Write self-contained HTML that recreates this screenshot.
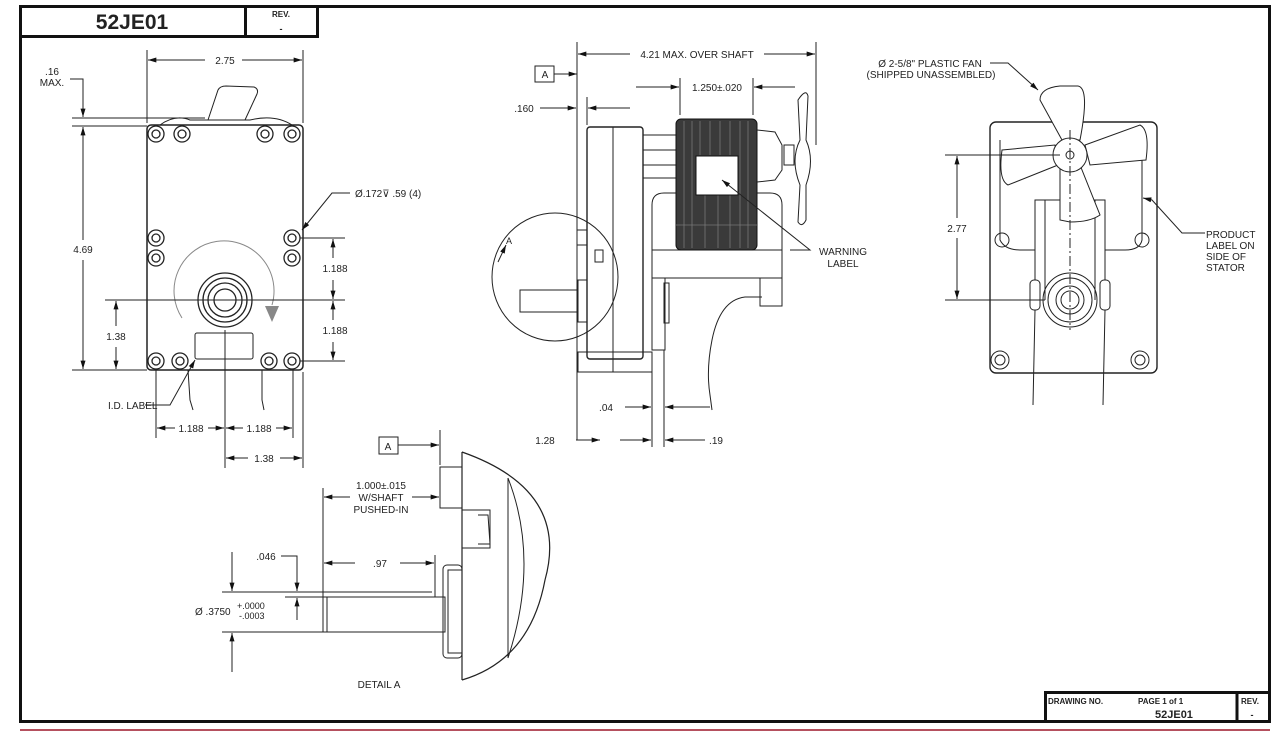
<!DOCTYPE html>
<html><head><meta charset="utf-8"><style>
html,body{margin:0;padding:0;background:#fff;}
svg{display:block;}
text{font-family:"Liberation Sans",sans-serif;fill:#222;}
.d{font-size:10px;}
</style></head><body>
<svg width="1280" height="733" viewBox="0 0 1280 733" xmlns="http://www.w3.org/2000/svg">
<defs>
<marker id="a" viewBox="0 0 10 6" refX="10" refY="3" markerWidth="10" markerHeight="5" orient="auto-start-reverse" markerUnits="userSpaceOnUse"><path d="M0,0L10,3L0,6z" fill="#111"/></marker>
</defs>
<rect width="1280" height="733" fill="#fff"/>
<!-- frame -->
<rect x="20.5" y="6.5" width="1249" height="715" fill="none" stroke="#111" stroke-width="3"/>
<line x1="20" y1="730" x2="1270" y2="730" stroke="#b5505e" stroke-width="2"/>
<rect x="20.5" y="6.5" width="225" height="30" fill="none" stroke="#111" stroke-width="3"/>
<rect x="245.5" y="6.5" width="72" height="30" fill="none" stroke="#111" stroke-width="3"/>
<text x="132" y="29" font-size="21" font-weight="bold" text-anchor="middle" fill="#111">52JE01</text>
<text x="281" y="17" font-size="8" font-weight="bold" text-anchor="middle">REV.</text>
<text x="281" y="32" font-size="9" font-weight="bold" text-anchor="middle">-</text>
<rect x="1045.5" y="692.5" width="224" height="29" fill="none" stroke="#111" stroke-width="3"/>
<line x1="1237" y1="692" x2="1237" y2="721" stroke="#111" stroke-width="3"/>
<text x="1048" y="704" font-size="8" font-weight="bold">DRAWING NO.</text>
<text x="1138" y="704" font-size="8" font-weight="bold">PAGE  1  of  1</text>
<text x="1155" y="718" font-size="11" font-weight="bold">52JE01</text>
<text x="1241" y="704" font-size="8" font-weight="bold">REV.</text>
<text x="1252" y="718" font-size="9" font-weight="bold" text-anchor="middle">-</text>

<g stroke="#222" fill="none" stroke-width="1">
<!-- LEFT VIEW -->
<rect x="147" y="125" width="156" height="245" rx="4" stroke-width="1.5"/>
<path d="M208,120 L218,90 Q220,86 226,86 L254,87 Q259,89 257,94 L245,120" />
<path d="M160,125 Q175,114 190,120 L250,120 Q275,114 292,125"/>
<g stroke-width="1.3">
<circle cx="156" cy="134" r="8"/><circle cx="156" cy="134" r="4"/>
<circle cx="182" cy="134" r="8"/><circle cx="182" cy="134" r="4"/>
<circle cx="265" cy="134" r="8"/><circle cx="265" cy="134" r="4"/>
<circle cx="292" cy="134" r="8"/><circle cx="292" cy="134" r="4"/>
<circle cx="156" cy="238" r="8"/><circle cx="156" cy="238" r="4"/>
<circle cx="156" cy="258" r="8"/><circle cx="156" cy="258" r="4"/>
<circle cx="292" cy="238" r="8"/><circle cx="292" cy="238" r="4"/>
<circle cx="292" cy="258" r="8"/><circle cx="292" cy="258" r="4"/>
<circle cx="156" cy="361" r="8"/><circle cx="156" cy="361" r="4"/>
<circle cx="180" cy="361" r="8"/><circle cx="180" cy="361" r="4"/>
<circle cx="269" cy="361" r="8"/><circle cx="269" cy="361" r="4"/>
<circle cx="292" cy="361" r="8"/><circle cx="292" cy="361" r="4"/>
<circle cx="225" cy="300" r="27"/><circle cx="225" cy="300" r="22"/><circle cx="225" cy="300" r="17"/><circle cx="225" cy="300" r="11"/>
</g>
<path d="M182,318 A50,50 0 1 1 272,305" stroke="#888"/>
<path d="M265,306 L279,306 L272,322z" fill="#888" stroke="none"/>
<rect x="195" y="333" width="58" height="26" rx="2"/>
<path d="M188,370 L190,400 L193,410 M262,370 L262,400 L264,410"/>
<!-- left dims -->
<line x1="147" y1="50" x2="147" y2="123"/><line x1="303" y1="50" x2="303" y2="123"/>
<line x1="148" y1="60" x2="205" y2="60" marker-start="url(#a)"/><line x1="242" y1="60" x2="302" y2="60" marker-end="url(#a)"/>
<line x1="72" y1="118" x2="205" y2="118"/><line x1="72" y1="126" x2="147" y2="126"/><line x1="72" y1="370" x2="147" y2="370"/>
<path d="M70,79 L83,79 L83,117" marker-end="url(#a)"/>
<line x1="83" y1="127" x2="83" y2="240" marker-start="url(#a)"/><line x1="83" y1="260" x2="83" y2="369" marker-end="url(#a)"/>
<line x1="105" y1="300" x2="345" y2="300"/>
<line x1="116" y1="301" x2="116" y2="326" marker-start="url(#a)"/><line x1="116" y1="347" x2="116" y2="369" marker-end="url(#a)"/>
<line x1="300" y1="238" x2="345" y2="238"/><line x1="300" y1="361" x2="345" y2="361"/>
<line x1="333" y1="239" x2="333" y2="258" marker-start="url(#a)"/><line x1="333" y1="280" x2="333" y2="299" marker-end="url(#a)"/>
<line x1="333" y1="301" x2="333" y2="320" marker-start="url(#a)"/><line x1="333" y1="342" x2="333" y2="360" marker-end="url(#a)"/>
<path d="M350,193 L332,193 L302,230" marker-end="url(#a)"/>
<path d="M145,405 L170,405 L195,360" marker-end="url(#a)"/>
<line x1="156" y1="370" x2="156" y2="438"/><line x1="293" y1="370" x2="293" y2="438"/><line x1="225" y1="330" x2="225" y2="468"/><line x1="303" y1="372" x2="303" y2="468"/>
<line x1="157" y1="428" x2="175" y2="428" marker-start="url(#a)"/><line x1="208" y1="428" x2="224" y2="428" marker-end="url(#a)"/>
<line x1="226" y1="428" x2="243" y2="428" marker-start="url(#a)"/><line x1="276" y1="428" x2="292" y2="428" marker-end="url(#a)"/>
<line x1="226" y1="458" x2="248" y2="458" marker-start="url(#a)"/><line x1="280" y1="458" x2="302" y2="458" marker-end="url(#a)"/>

<!-- MIDDLE VIEW -->
<rect x="535" y="66" width="19" height="16"/>
<line x1="554" y1="74" x2="577" y2="74" marker-end="url(#a)"/>
<line x1="577" y1="42" x2="577" y2="440"/>
<line x1="816" y1="42" x2="816" y2="145"/>
<line x1="578" y1="54" x2="630" y2="54" marker-start="url(#a)"/><line x1="764" y1="54" x2="815" y2="54" marker-end="url(#a)"/>
<line x1="680" y1="78" x2="680" y2="115"/><line x1="753" y1="78" x2="753" y2="115"/>
<line x1="636" y1="87" x2="679" y2="87" marker-end="url(#a)"/><line x1="795" y1="87" x2="754" y2="87" marker-end="url(#a)"/>
<line x1="540" y1="108" x2="576" y2="108" marker-end="url(#a)"/>
<line x1="587" y1="97" x2="587" y2="125"/>
<line x1="630" y1="108" x2="588" y2="108" marker-end="url(#a)"/>
<!-- gearbox -->
<rect x="587" y="127" width="56" height="232" rx="3" stroke-width="1.4"/>
<line x1="613" y1="127" x2="613" y2="372"/>
<rect x="578" y="352" width="74" height="20"/>
<rect x="577" y="230" width="10" height="15"/><rect x="595" y="250" width="8" height="12"/>
<rect x="520" y="290" width="58" height="22"/><rect x="578" y="280" width="9" height="42"/>
<ellipse cx="555" cy="277" rx="63" ry="64"/>
<rect x="643" y="135" width="37" height="43"/><line x1="643" y1="150" x2="680" y2="150"/><line x1="643" y1="165" x2="680" y2="165"/>
<path d="M652,278 L652,205 Q652,193 664,193 L770,193 Q782,193 782,205 L782,278 Z"/>
<line x1="652" y1="250" x2="782" y2="250"/>
<rect x="652" y="278" width="13" height="72"/><rect x="664" y="283" width="5" height="40"/>
<rect x="676" y="119" width="81" height="131" rx="5" fill="#3a3a3a" stroke="#111"/>
<g stroke="#777" stroke-width="0.8">
<line x1="684" y1="121" x2="684" y2="248"/><line x1="692" y1="121" x2="692" y2="248"/><line x1="700" y1="121" x2="700" y2="155"/><line x1="710" y1="121" x2="710" y2="155"/><line x1="720" y1="121" x2="720" y2="155"/><line x1="730" y1="121" x2="730" y2="155"/><line x1="740" y1="121" x2="740" y2="248"/><line x1="748" y1="121" x2="748" y2="248"/>
<line x1="705" y1="195" x2="705" y2="248"/><line x1="718" y1="195" x2="718" y2="248"/><line x1="730" y1="195" x2="730" y2="248"/>
<line x1="676" y1="225" x2="757" y2="225"/>
</g>
<rect x="696" y="156" width="42" height="39" fill="#fff" stroke="#111"/>
<path d="M757,130 L775,132 L782,145 L782,170 L775,180 L757,182"/>
<rect x="784" y="145" width="10" height="20"/>
<path d="M798,100 Q806,88 808,96 L806,140 Q815,160 806,185 L806,220 Q802,228 798,222 L800,185 Q790,160 800,140 Z" fill="#fff"/>
<rect x="760" y="278" width="22" height="28"/>
<path d="M762,297 L745,297 Q720,300 712,340 Q706,370 710,395 L712,410"/>
<path d="M790,250 L810,250 L722,180" marker-end="url(#a)"/>
<line x1="652" y1="372" x2="652" y2="447"/><line x1="664" y1="350" x2="664" y2="447"/>
<line x1="625" y1="407" x2="651" y2="407" marker-end="url(#a)"/><line x1="710" y1="407" x2="665" y2="407" marker-end="url(#a)"/>
<line x1="590" y1="440" x2="576" y2="440"/>
<line x1="600" y1="440" x2="578" y2="440" marker-start="url(#a)"/>
<line x1="620" y1="440" x2="651" y2="440" marker-end="url(#a)"/>
<line x1="705" y1="440" x2="665" y2="440" marker-end="url(#a)"/>
<path d="M498,262 L506,245" marker-end="url(#a)"/>

<!-- RIGHT VIEW -->
<rect x="990" y="122" width="167" height="251" rx="6" stroke-width="1.4"/>
<circle cx="1000" cy="360" r="9"/><circle cx="1000" cy="360" r="5"/>
<circle cx="1140" cy="360" r="9"/><circle cx="1140" cy="360" r="5"/>
<circle cx="1002" cy="240" r="7"/><circle cx="1142" cy="240" r="7"/>
<path d="M1000,140 L1000,240 Q1005,250 1020,250 L1035,250 L1035,200 L1105,200 L1105,250 L1125,250 Q1140,250 1142,240 L1142,140"/>
<path d="M1045,200 L1045,300 M1095,200 L1095,300"/>
<path d="M1040,100 Q1040,88 1060,86 L1078,86 Q1090,88 1080,140 L1062,140 Z" fill="#fff"/>
<path d="M1085,145 L1140,125 Q1150,130 1146,160 L1090,165 Z" fill="#fff"/>
<path d="M1002,150 L1055,145 L1058,165 L1008,185 Q998,180 1002,150 Z" fill="#fff"/>
<path d="M1060,165 L1080,165 L1100,215 Q1090,222 1070,222 L1060,220 Z" fill="#fff"/>
<circle cx="1070" cy="155" r="17" fill="#fff"/><circle cx="1070" cy="155" r="4"/>
<line x1="1070" y1="130" x2="1070" y2="330" stroke-dasharray="10,3,2,3"/>
<line x1="945" y1="155" x2="1060" y2="155"/><line x1="945" y1="300" x2="1045" y2="300"/>
<line x1="957" y1="156" x2="957" y2="218" marker-start="url(#a)"/><line x1="957" y1="238" x2="957" y2="299" marker-end="url(#a)"/>
<circle cx="1070" cy="300" r="27"/><circle cx="1070" cy="300" r="22"/><circle cx="1070" cy="300" r="14"/><circle cx="1070" cy="300" r="9"/>
<rect x="1030" y="280" width="10" height="30" rx="4"/><rect x="1100" y="280" width="10" height="30" rx="4"/>
<path d="M1035,250 L1035,280 M1105,250 L1105,280 M1035,310 L1033,405 M1105,310 L1103,405"/>
<path d="M990,63 L1008,63 L1038,90" marker-end="url(#a)"/>
<path d="M1205,233 L1182,233 L1152,200 L1143,198" marker-end="url(#a)"/>

<!-- DETAIL A -->
<rect x="379" y="437" width="19" height="17"/>
<line x1="398" y1="445" x2="439" y2="445" marker-end="url(#a)"/>
<line x1="440" y1="430" x2="440" y2="465"/>
<path d="M462,452 L462,680 M462,452 Q570,490 545,580 Q530,660 462,680" stroke-width="1.2"/>
<path d="M508,478 Q540,560 508,658 L508,478"/>
<rect x="440" y="467" width="22" height="41"/>
<rect x="462" y="510" width="28" height="38"/><path d="M478,515 L488,515 L490,544 L478,544"/>
<rect x="443" y="565" width="19" height="93" rx="4"/><rect x="448" y="570" width="14" height="83"/>
<rect x="323" y="597" width="122" height="35"/><line x1="327" y1="597" x2="327" y2="632"/>
<line x1="323" y1="488" x2="323" y2="632"/>
<line x1="324" y1="497" x2="350" y2="497" marker-start="url(#a)"/><line x1="412" y1="497" x2="439" y2="497" marker-end="url(#a)"/>
<line x1="435" y1="555" x2="435" y2="597"/>
<line x1="324" y1="563" x2="355" y2="563" marker-start="url(#a)"/><line x1="400" y1="563" x2="434" y2="563" marker-end="url(#a)"/>
<line x1="222" y1="592" x2="432" y2="592"/><line x1="285" y1="597" x2="323" y2="597"/>
<line x1="222" y1="632" x2="323" y2="632"/>
<path d="M281,556 L297,556 L297,591" marker-end="url(#a)"/>
<line x1="297" y1="620" x2="297" y2="598" marker-end="url(#a)"/>
<line x1="232" y1="552" x2="232" y2="591" marker-end="url(#a)"/>
<line x1="232" y1="672" x2="232" y2="633" marker-end="url(#a)"/>
</g>

<!-- text labels -->
<g class="d">
<text x="225" y="64" text-anchor="middle">2.75</text>
<text x="52" y="75" text-anchor="middle">.16</text>
<text x="52" y="86" text-anchor="middle">MAX.</text>
<text x="83" y="253" text-anchor="middle">4.69</text>
<text x="116" y="340" text-anchor="middle">1.38</text>
<text x="335" y="272" text-anchor="middle">1.188</text>
<text x="335" y="334" text-anchor="middle">1.188</text>
<text x="355" y="197">Ø.172⊽ .59 (4)</text>
<text x="108" y="409">I.D. LABEL</text>
<text x="191" y="432" text-anchor="middle">1.188</text>
<text x="259" y="432" text-anchor="middle">1.188</text>
<text x="264" y="462" text-anchor="middle">1.38</text>
<text x="545" y="78" text-anchor="middle">A</text>
<text x="697" y="58" text-anchor="middle">4.21 MAX. OVER SHAFT</text>
<text x="717" y="91" text-anchor="middle">1.250±.020</text>
<text x="524" y="112" text-anchor="middle">.160</text>
<text x="843" y="255" text-anchor="middle">WARNING</text>
<text x="843" y="267" text-anchor="middle">LABEL</text>
<text x="506" y="244" font-size="9">A</text>
<text x="606" y="411" text-anchor="middle">.04</text>
<text x="545" y="444" text-anchor="middle">1.28</text>
<text x="716" y="444" text-anchor="middle">.19</text>
<text x="930" y="67" text-anchor="middle">Ø 2-5/8" PLASTIC FAN</text>
<text x="931" y="78" text-anchor="middle">(SHIPPED UNASSEMBLED)</text>
<text x="957" y="232" text-anchor="middle">2.77</text>
<text x="1206" y="238">PRODUCT</text>
<text x="1206" y="249">LABEL ON</text>
<text x="1206" y="260">SIDE OF</text>
<text x="1206" y="271">STATOR</text>
<text x="388" y="450" text-anchor="middle">A</text>
<text x="381" y="489" text-anchor="middle">1.000±.015</text>
<text x="381" y="501" text-anchor="middle">W/SHAFT</text>
<text x="381" y="513" text-anchor="middle">PUSHED-IN</text>
<text x="266" y="560" text-anchor="middle">.046</text>
<text x="380" y="567" text-anchor="middle">.97</text>
<text x="195" y="615">Ø .3750</text>
<text x="237" y="609" font-size="9">+.0000</text>
<text x="239" y="619" font-size="9">-.0003</text>
<text x="379" y="688" text-anchor="middle">DETAIL A</text>
</g>
</svg>
</body></html>
